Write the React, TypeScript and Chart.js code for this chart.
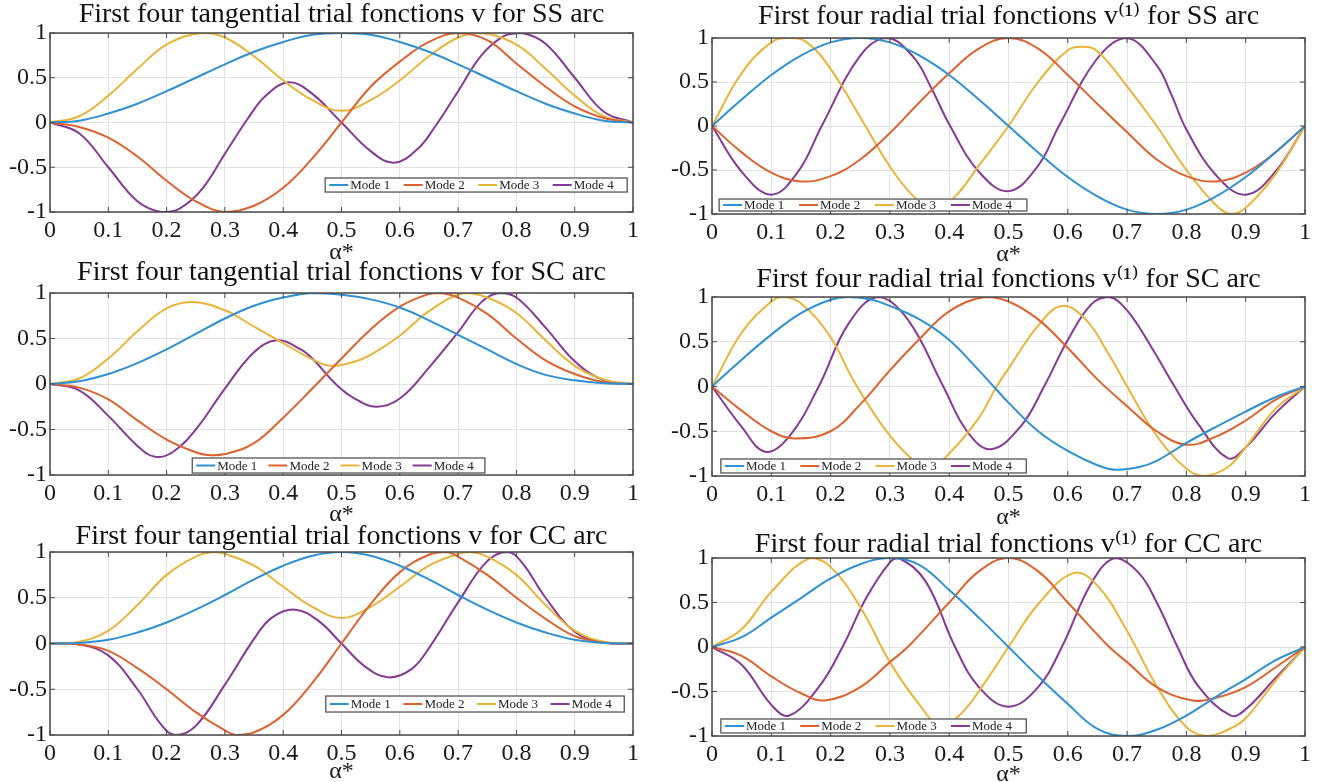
import React, { useEffect, useRef } from 'react';
import { Chart, registerables } from 'chart.js';

Chart.register(...registerables);

const FONT = "'Liberation Serif', 'Times New Roman', 'DejaVu Serif', serif";
const MODE_LABELS = ['Mode 1', 'Mode 2', 'Mode 3', 'Mode 4'];
const MODE_COLORS = ['#2f90d2', '#dc6330', '#eab43a', '#853a93'];
const X_TICKS = [0, 0.1, 0.2, 0.3, 0.4, 0.5, 0.6, 0.7, 0.8, 0.9, 1];
const Y_TICKS = [-1, -0.5, 0, 0.5, 1];
const X_TITLE = 'α*';

const GRID = [0, 0.05, 0.1, 0.15, 0.2, 0.25, 0.3, 0.35, 0.4, 0.45, 0.5, 0.55, 0.6, 0.65, 0.7, 0.75, 0.8, 0.85, 0.9, 0.95, 1];

// ---- SS arc, tangential ----
const ssTan1X = GRID;
const ssTan1Y = [0, 0.02, 0.1, 0.21, 0.35, 0.5, 0.65, 0.79, 0.9, 0.98, 1, 0.98, 0.9, 0.79, 0.65, 0.5, 0.35, 0.21, 0.1, 0.02, 0];
const ssTan2X = GRID;
const ssTan2Y = [0, -0.05, -0.17, -0.38, -0.65, -0.88, -1, -0.93, -0.73, -0.4, 0, 0.4, 0.68, 0.9, 1, 0.92, 0.66, 0.4, 0.18, 0.05, 0];
const ssTan3X = [0, 0.05, 0.1, 0.15, 0.2, 0.26, 0.3, 0.35, 0.4, 0.45, 0.5, 0.55, 0.6, 0.65, 0.7, 0.74, 0.8, 0.85, 0.9, 0.95, 1];
const ssTan3Y = [0, 0.07, 0.3, 0.6, 0.87, 1, 0.95, 0.74, 0.47, 0.25, 0.13, 0.25, 0.47, 0.74, 0.95, 1, 0.87, 0.6, 0.3, 0.07, 0];
const ssTan4X = [0, 0.05, 0.1, 0.15, 0.19, 0.22, 0.26, 0.3, 0.34, 0.37, 0.41, 0.45, 0.5, 0.55, 0.59, 0.63, 0.66, 0.7, 0.74, 0.78, 0.81, 0.85, 0.9, 0.95, 1];
const ssTan4Y = [0, -0.12, -0.5, -0.88, -1, -0.97, -0.75, -0.35, 0.05, 0.3, 0.45, 0.32, 0, -0.32, -0.45, -0.3, -0.05, 0.35, 0.75, 0.97, 1, 0.88, 0.5, 0.12, 0];

// ---- SS arc, radial ----
const ssRad1X = GRID;
const ssRad1Y = [0, 0.3, 0.58, 0.8, 0.95, 1, 0.95, 0.8, 0.58, 0.3, 0, -0.3, -0.58, -0.8, -0.95, -1, -0.95, -0.8, -0.58, -0.3, 0];
const ssRad2X = GRID;
const ssRad2Y = [0, -0.3, -0.53, -0.63, -0.57, -0.38, -0.08, 0.27, 0.6, 0.88, 1, 0.88, 0.58, 0.25, -0.07, -0.38, -0.57, -0.63, -0.53, -0.3, 0];
const ssRad3X = [0, 0.05, 0.1, 0.13, 0.16, 0.2, 0.25, 0.3, 0.34, 0.375, 0.41, 0.45, 0.5, 0.55, 0.6, 0.625, 0.65, 0.7, 0.75, 0.8, 0.85, 0.875, 0.9, 0.95, 1];
const ssRad3Y = [0, 0.6, 0.95, 1, 0.95, 0.65, 0.1, -0.46, -0.8, -0.95, -0.8, -0.45, 0, 0.5, 0.86, 0.9, 0.85, 0.45, 0, -0.5, -0.9, -1, -0.93, -0.55, 0];
const ssRad4X = [0, 0.05, 0.1, 0.145, 0.185, 0.25, 0.295, 0.34, 0.37, 0.4, 0.45, 0.5, 0.55, 0.585, 0.65, 0.7, 0.75, 0.775, 0.8, 0.85, 0.9, 0.95, 1];
const ssRad4Y = [0, -0.52, -0.78, -0.52, 0, 0.8, 1, 0.78, 0.43, 0.02, -0.52, -0.74, -0.45, 0, 0.77, 1, 0.69, 0.35, -0.04, -0.56, -0.78, -0.52, 0];

// ---- SC arc, tangential ----
const scTan1X = GRID;
const scTan1Y = [0, 0.03, 0.11, 0.23, 0.38, 0.55, 0.72, 0.86, 0.95, 1, 0.98, 0.93, 0.84, 0.7, 0.54, 0.38, 0.22, 0.1, 0.04, 0.008, 0];
const scTan2X = [0, 0.05, 0.1, 0.15, 0.2, 0.25, 0.27, 0.3, 0.35, 0.4, 0.45, 0.5, 0.55, 0.6, 0.65, 0.67, 0.7, 0.75, 0.8, 0.85, 0.9, 0.95, 1];
const scTan2Y = [0, -0.04, -0.17, -0.4, -0.61, -0.75, -0.78, -0.77, -0.65, -0.37, -0.05, 0.28, 0.6, 0.85, 0.99, 1, 0.95, 0.77, 0.5, 0.26, 0.11, 0.02, 0];
const scTan3X = [0, 0.05, 0.1, 0.15, 0.2, 0.245, 0.3, 0.35, 0.4, 0.45, 0.48, 0.52, 0.55, 0.6, 0.65, 0.71, 0.75, 0.8, 0.85, 0.9, 0.95, 1];
const scTan3Y = [0, 0.06, 0.28, 0.58, 0.83, 0.9, 0.81, 0.63, 0.45, 0.27, 0.2, 0.24, 0.32, 0.53, 0.8, 1, 0.95, 0.78, 0.48, 0.2, 0.05, 0];
const scTan4X = [0, 0.05, 0.1, 0.15, 0.18, 0.21, 0.25, 0.3, 0.35, 0.39, 0.43, 0.45, 0.49, 0.52, 0.56, 0.6, 0.65, 0.7, 0.74, 0.77, 0.8, 0.85, 0.9, 0.95, 1];
const scTan4Y = [0, -0.07, -0.35, -0.68, -0.8, -0.75, -0.5, -0.05, 0.35, 0.48, 0.38, 0.28, 0, -0.15, -0.25, -0.16, 0.18, 0.57, 0.9, 1, 0.95, 0.62, 0.25, 0.04, 0];

// ---- SC arc, radial ----
const scRad1X = [0, 0.05, 0.1, 0.15, 0.2, 0.23, 0.27, 0.3, 0.35, 0.4, 0.45, 0.475, 0.5, 0.55, 0.6, 0.65, 0.68, 0.72, 0.75, 0.8, 0.85, 0.9, 0.95, 1];
const scRad1Y = [0, 0.3, 0.58, 0.82, 0.97, 1, 0.97, 0.9, 0.75, 0.52, 0.18, 0, -0.18, -0.5, -0.72, -0.88, -0.93, -0.9, -0.83, -0.63, -0.45, -0.28, -0.12, 0];
const scRad2X = [0, 0.05, 0.1, 0.14, 0.2, 0.25, 0.3, 0.35, 0.4, 0.46, 0.5, 0.55, 0.6, 0.65, 0.7, 0.75, 0.8, 0.85, 0.9, 0.95, 1];
const scRad2Y = [0, -0.27, -0.5, -0.58, -0.5, -0.2, 0.18, 0.53, 0.84, 1, 0.95, 0.75, 0.43, 0.08, -0.22, -0.5, -0.65, -0.56, -0.38, -0.15, 0];
const scRad3X = [0, 0.05, 0.1, 0.12, 0.15, 0.2, 0.24, 0.3, 0.35, 0.37, 0.4, 0.45, 0.48, 0.5, 0.55, 0.59, 0.63, 0.67, 0.7, 0.75, 0.8, 0.83, 0.87, 0.9, 0.95, 1];
const scRad3Y = [0, 0.6, 0.95, 1, 0.93, 0.55, 0.05, -0.55, -0.88, -0.9, -0.75, -0.35, 0, 0.2, 0.68, 0.9, 0.75, 0.35, 0, -0.55, -0.92, -1, -0.9, -0.68, -0.25, 0];
const scRad4X = [0, 0.05, 0.09, 0.13, 0.18, 0.23, 0.28, 0.33, 0.39, 0.43, 0.47, 0.52, 0.56, 0.6, 0.64, 0.67, 0.7, 0.74, 0.78, 0.82, 0.87, 0.9, 0.95, 1];
const scRad4Y = [0, -0.45, -0.73, -0.56, 0, 0.7, 1, 0.75, 0, -0.5, -0.7, -0.45, 0, 0.52, 0.92, 1, 0.85, 0.45, 0, -0.42, -0.8, -0.68, -0.3, 0];

// ---- CC arc, tangential ----
const ccTan1X = GRID;
const ccTan1Y = [0, 0.005, 0.04, 0.12, 0.23, 0.37, 0.53, 0.7, 0.85, 0.96, 1, 0.96, 0.85, 0.7, 0.53, 0.37, 0.23, 0.12, 0.04, 0.005, 0];
const ccTan2X = [0, 0.05, 0.1, 0.15, 0.2, 0.25, 0.3, 0.32, 0.35, 0.4, 0.45, 0.5, 0.55, 0.6, 0.65, 0.68, 0.7, 0.75, 0.8, 0.85, 0.9, 0.95, 1];
const ccTan2Y = [0, -0.01, -0.08, -0.27, -0.5, -0.75, -0.95, -1, -0.97, -0.78, -0.43, 0, 0.43, 0.78, 0.97, 1, 0.95, 0.75, 0.5, 0.27, 0.08, 0.01, 0];
const ccTan3X = [0, 0.05, 0.1, 0.15, 0.2, 0.25, 0.28, 0.3, 0.35, 0.4, 0.45, 0.5, 0.55, 0.6, 0.65, 0.7, 0.72, 0.75, 0.8, 0.85, 0.9, 0.95, 1];
const ccTan3Y = [0, 0.02, 0.14, 0.42, 0.75, 0.95, 1, 0.98, 0.85, 0.62, 0.4, 0.28, 0.4, 0.62, 0.85, 0.98, 1, 0.95, 0.75, 0.42, 0.14, 0.02, 0];
const ccTan4X = [0, 0.05, 0.1, 0.15, 0.19, 0.215, 0.25, 0.3, 0.35, 0.38, 0.42, 0.46, 0.5, 0.54, 0.58, 0.62, 0.65, 0.7, 0.75, 0.785, 0.81, 0.85, 0.9, 0.95, 1];
const ccTan4Y = [0, -0.01, -0.13, -0.5, -0.88, -1, -0.9, -0.45, 0.05, 0.28, 0.37, 0.25, 0, -0.25, -0.37, -0.28, -0.05, 0.45, 0.9, 1, 0.88, 0.5, 0.13, 0.01, 0];

// ---- CC arc, radial ----
const ccRad1X = GRID;
const ccRad1Y = [0, 0.11, 0.33, 0.55, 0.77, 0.93, 1, 0.92, 0.64, 0.33, 0, -0.33, -0.64, -0.92, -1, -0.93, -0.77, -0.56, -0.36, -0.15, 0];
const ccRad2X = [0, 0.05, 0.1, 0.15, 0.19, 0.25, 0.3, 0.33, 0.4, 0.45, 0.5, 0.55, 0.6, 0.67, 0.7, 0.75, 0.81, 0.85, 0.9, 0.95, 1];
const ccRad2Y = [0, -0.1, -0.33, -0.52, -0.6, -0.45, -0.17, 0, 0.5, 0.85, 1, 0.85, 0.5, 0, -0.17, -0.45, -0.6, -0.57, -0.45, -0.23, 0];
const ccRad3X = [0, 0.05, 0.1, 0.165, 0.2, 0.25, 0.3, 0.35, 0.385, 0.42, 0.46, 0.5, 0.55, 0.61, 0.65, 0.7, 0.75, 0.8, 0.835, 0.87, 0.9, 0.95, 1];
const ccRad3Y = [0, 0.2, 0.62, 1, 0.9, 0.45, -0.17, -0.65, -0.88, -0.75, -0.4, 0, 0.48, 0.83, 0.69, 0.18, -0.44, -0.9, -1, -0.93, -0.8, -0.38, 0];
const ccRad4X = [0, 0.05, 0.1, 0.13, 0.18, 0.22, 0.26, 0.3, 0.315, 0.36, 0.41, 0.45, 0.5, 0.55, 0.59, 0.64, 0.68, 0.72, 0.75, 0.785, 0.82, 0.875, 0.9, 0.95, 1];
const ccRad4Y = [0, -0.2, -0.65, -0.77, -0.45, 0, 0.55, 0.95, 1, 0.74, 0, -0.45, -0.67, -0.45, 0, 0.72, 1, 0.83, 0.5, 0, -0.44, -0.77, -0.7, -0.35, 0];

const TITLE_H = 36;
const XAXIS_H = 58;

type Series = { x: number[]; y: number[] };
type PanelDef = {
  title: string;
  series: Series[];
  rect: [number, number, number, number];
  titleGap: number;
  axisTitleGap: number;
  legendBox: [number, number, number, number];
};

const PANELS: PanelDef[] = [
  {
    title: 'First four tangential trial fonctions v for SS arc',
    series: [{ x: ssTan1X, y: ssTan1Y }, { x: ssTan2X, y: ssTan2Y }, { x: ssTan3X, y: ssTan3Y }, { x: ssTan4X, y: ssTan4Y }],
    rect: [50, 33, 633, 212], titleGap: 18, axisTitleGap: 41, legendBox: [0.472, 0.99, -0.62, -0.777],
  },
  {
    title: 'First four radial trial fonctions v\u207D\u00B9\u207E for SS arc',
    series: [{ x: ssRad1X, y: ssRad1Y }, { x: ssRad2X, y: ssRad2Y }, { x: ssRad3X, y: ssRad3Y }, { x: ssRad4X, y: ssRad4Y }],
    rect: [712, 38, 1305, 214], titleGap: 21, axisTitleGap: 41, legendBox: [0.012, 0.531, -0.83, -0.966],
  },
  {
    title: 'First four tangential trial fonctions v for SC arc',
    series: [{ x: scTan1X, y: scTan1Y }, { x: scTan2X, y: scTan2Y }, { x: scTan3X, y: scTan3Y }, { x: scTan4X, y: scTan4Y }],
    rect: [50, 293, 633, 475], titleGap: 20, axisTitleGap: 40, legendBox: [0.244, 0.746, -0.813, -0.978],
  },
  {
    title: 'First four radial trial fonctions v\u207D\u00B9\u207E for SC arc',
    series: [{ x: scRad1X, y: scRad1Y }, { x: scRad2X, y: scRad2Y }, { x: scRad3X, y: scRad3Y }, { x: scRad4X, y: scRad4Y }],
    rect: [712, 297, 1305, 476], titleGap: 17, axisTitleGap: 42, legendBox: [0.015, 0.53, -0.81, -0.966],
  },
  {
    title: 'First four tangential trial fonctions v for CC arc',
    series: [{ x: ccTan1X, y: ccTan1Y }, { x: ccTan2X, y: ccTan2Y }, { x: ccTan3X, y: ccTan3Y }, { x: ccTan4X, y: ccTan4Y }],
    rect: [50, 552, 633, 735], titleGap: 15, axisTitleGap: 37, legendBox: [0.473, 0.985, -0.574, -0.749],
  },
  {
    title: 'First four radial trial fonctions v\u207D\u00B9\u207E for CC arc',
    series: [{ x: ccRad1X, y: ccRad1Y }, { x: ccRad2X, y: ccRad2Y }, { x: ccRad3X, y: ccRad3Y }, { x: ccRad4X, y: ccRad4Y }],
    rect: [712, 558, 1305, 736], titleGap: 13, axisTitleGap: 39, legendBox: [0.015, 0.53, -0.809, -0.966],
  },
];

const fmt = (v: number) => String(Math.round(v * 10) / 10);

const framePlugin = {
  id: 'matlabFrame',
  afterDatasetsDraw(chart: any) {
    const { ctx, chartArea: a, scales } = chart;
    ctx.save();
    ctx.strokeStyle = '#4a4a4a';
    ctx.lineWidth = 1.5;
    ctx.strokeRect(a.left, a.top, a.right - a.left, a.bottom - a.top);
    ctx.lineWidth = 1;
    const tl = 5;
    ctx.beginPath();
    X_TICKS.forEach((v) => {
      const px = scales.x.getPixelForValue(v);
      ctx.moveTo(px, a.bottom); ctx.lineTo(px, a.bottom - tl);
      ctx.moveTo(px, a.top); ctx.lineTo(px, a.top + tl);
    });
    Y_TICKS.forEach((v) => {
      const py = scales.y.getPixelForValue(v);
      ctx.moveTo(a.left, py); ctx.lineTo(a.left + tl, py);
      ctx.moveTo(a.right, py); ctx.lineTo(a.right - tl, py);
    });
    ctx.stroke();
    ctx.restore();
  },
};

function makeTitlePlugin(text: string, gap: number) {
  return {
    id: 'panelTitle',
    afterDraw(chart: any) {
      const { ctx, chartArea: a } = chart;
      ctx.save();
      ctx.font = `28px ${FONT}`;
      ctx.fillStyle = '#111111';
      ctx.textAlign = 'center';
      ctx.textBaseline = 'middle';
      ctx.fillText(text, (a.left + a.right) / 2, a.top - gap);
      ctx.restore();
    },
  };
}

function makeLegendPlugin(box: [number, number, number, number]) {
  return {
    id: 'inlineLegend',
    afterDraw(chart: any) {
      const { ctx, scales } = chart;
      const left = scales.x.getPixelForValue(box[0]);
      const right = scales.x.getPixelForValue(box[1]);
      const top = scales.y.getPixelForValue(box[2]);
      const bottom = scales.y.getPixelForValue(box[3]);
      ctx.save();
      ctx.fillStyle = '#ffffff';
      ctx.fillRect(left, top, right - left, bottom - top);
      ctx.strokeStyle = '#555555';
      ctx.lineWidth = 1.3;
      ctx.strokeRect(left, top, right - left, bottom - top);
      const pitch = (right - left - 4) / 4;
      const cy = (top + bottom) / 2;
      ctx.font = `13px ${FONT}`;
      ctx.textBaseline = 'middle';
      ctx.textAlign = 'left';
      chart.data.datasets.forEach((ds: any, i: number) => {
        const sx = left + 4 + i * pitch;
        ctx.strokeStyle = ds.borderColor;
        ctx.lineWidth = 2;
        ctx.beginPath();
        ctx.moveTo(sx, cy);
        ctx.lineTo(sx + 19, cy);
        ctx.stroke();
        ctx.fillStyle = '#222222';
        ctx.fillText(ds.label, sx + 21, cy + 1);
      });
      ctx.restore();
    },
  };
}

function Panel({ def }: { def: PanelDef }) {
  const ref = useRef<HTMLCanvasElement | null>(null);
  const [L, T, R, B] = def.rect;
  const w = R - L + 100;
  const h = B - T + TITLE_H + XAXIS_H;

  useEffect(() => {
    if (!ref.current) return;
    const xTitlePb = XAXIS_H - 14.4 - def.axisTitleGap;
    const tickFont = { family: FONT, size: 24, lineHeight: 1.2 };
    const chart = new Chart(ref.current, {
      type: 'line',
      data: {
        datasets: def.series.map((s, i) => ({
          label: MODE_LABELS[i],
          data: s.x.map((x, j) => ({ x, y: s.y[j] })),
          borderColor: MODE_COLORS[i],
          backgroundColor: MODE_COLORS[i],
          borderWidth: 2,
          pointRadius: 0,
          fill: false,
          tension: 0.4,
        })),
      },
      options: {
        responsive: false,
        animation: false,
        devicePixelRatio: 1,
        events: [],
        layout: { padding: { left: 0, right: 50, top: TITLE_H, bottom: 0 } },
        plugins: {
          legend: { display: false },
          tooltip: { enabled: false },
          title: { display: false },
        },
        scales: {
          x: {
            type: 'linear',
            min: 0,
            max: 1,
            afterBuildTicks: (s: any) => { s.ticks = X_TICKS.map((v) => ({ value: v })); },
            afterFit: (s: any) => { s.height = XAXIS_H; },
            grid: { color: '#e2e2e2', lineWidth: 1, drawTicks: false },
            border: { display: false },
            ticks: { padding: 4, color: '#1a1a1a', font: tickFont, callback: (v: any) => fmt(Number(v)), maxRotation: 0, autoSkip: false },
            title: { display: true, text: X_TITLE, color: '#1a1a1a', font: tickFont, padding: { top: 0, bottom: xTitlePb } },
          },
          y: {
            type: 'linear',
            min: -1,
            max: 1,
            afterBuildTicks: (s: any) => { s.ticks = Y_TICKS.map((v) => ({ value: v })); },
            afterFit: (s: any) => { s.width = 50; },
            grid: { color: '#e2e2e2', lineWidth: 1, drawTicks: false },
            border: { display: false },
            ticks: { padding: 3, color: '#1a1a1a', font: tickFont, callback: (v: any) => fmt(Number(v)) },
          },
        },
      },
      plugins: [framePlugin, makeTitlePlugin(def.title, def.titleGap), makeLegendPlugin(def.legendBox)],
    } as any);
    return () => chart.destroy();
  }, [def]);

  return (
    <canvas
      ref={ref}
      width={w}
      height={h}
      style={{ position: 'absolute', left: L - 50, top: T - TITLE_H, width: w, height: h }}
    />
  );
}

export default function App() {
  return (
    <div style={{ position: 'absolute', left: 0, top: 0, width: 1317, height: 782, overflow: 'hidden', background: '#ffffff' }}>
      {PANELS.map((p, i) => (
        <Panel key={i} def={p} />
      ))}
    </div>
  );
}
